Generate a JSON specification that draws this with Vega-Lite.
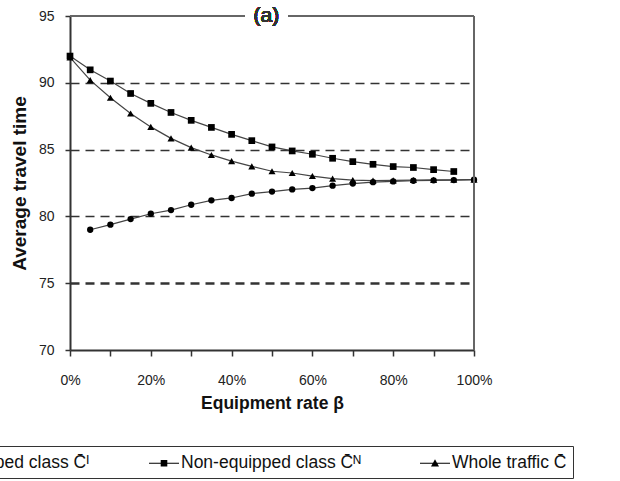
{
  "$schema": "https://vega.github.io/schema/vega-lite/v6.json",
  "width": 404,
  "height": 334,
  "autosize": {"type": "none"},
  "padding": {"left": 70, "top": 16, "right": 146, "bottom": 131},
  "background": "white",
  "config": {
    "view": {"stroke": null},
    "font": "Liberation Sans",
    "axis": {
      "labelFont": "Liberation Sans",
      "labelFontSize": 14,
      "labelColor": "#222",
      "titleFont": "Liberation Sans",
      "titleFontWeight": "bold",
      "titleColor": "#111",
      "domainColor": "#333",
      "domainWidth": 2,
      "tickColor": "#333",
      "tickWidth": 1.5,
      "tickSize": 6
    },
    "legend": {
      "orient": "none",
      "legendX": -154,
      "legendY": 430,
      "direction": "horizontal",
      "padding": 6,
      "strokeColor": "#333",
      "labelFont": "Liberation Sans",
      "labelFontSize": 17.5,
      "labelColor": "#111",
      "labelOffset": 6,
      "labelLimit": 400,
      "columnPadding": 56,
      "symbolSize": 400,
      "symbolOpacity": 1,
      "symbolFillColor": "black"
    }
  },
  "data": {
    "values": [
      {"b": 0.05, "v": 79.0, "s": "Equipped class C̄ᴵ"},
      {"b": 0.10, "v": 79.38, "s": "Equipped class C̄ᴵ"},
      {"b": 0.15, "v": 79.8, "s": "Equipped class C̄ᴵ"},
      {"b": 0.20, "v": 80.2, "s": "Equipped class C̄ᴵ"},
      {"b": 0.25, "v": 80.47, "s": "Equipped class C̄ᴵ"},
      {"b": 0.30, "v": 80.87, "s": "Equipped class C̄ᴵ"},
      {"b": 0.35, "v": 81.2, "s": "Equipped class C̄ᴵ"},
      {"b": 0.40, "v": 81.38, "s": "Equipped class C̄ᴵ"},
      {"b": 0.45, "v": 81.7, "s": "Equipped class C̄ᴵ"},
      {"b": 0.50, "v": 81.86, "s": "Equipped class C̄ᴵ"},
      {"b": 0.55, "v": 82.02, "s": "Equipped class C̄ᴵ"},
      {"b": 0.60, "v": 82.12, "s": "Equipped class C̄ᴵ"},
      {"b": 0.65, "v": 82.3, "s": "Equipped class C̄ᴵ"},
      {"b": 0.70, "v": 82.46, "s": "Equipped class C̄ᴵ"},
      {"b": 0.75, "v": 82.56, "s": "Equipped class C̄ᴵ"},
      {"b": 0.80, "v": 82.62, "s": "Equipped class C̄ᴵ"},
      {"b": 0.85, "v": 82.67, "s": "Equipped class C̄ᴵ"},
      {"b": 0.90, "v": 82.7, "s": "Equipped class C̄ᴵ"},
      {"b": 0.95, "v": 82.72, "s": "Equipped class C̄ᴵ"},
      {"b": 1.00, "v": 82.75, "s": "Equipped class C̄ᴵ"},
      {"b": 0.00, "v": 92.0, "s": "Non-equipped class C̄ᴺ"},
      {"b": 0.05, "v": 90.97, "s": "Non-equipped class C̄ᴺ"},
      {"b": 0.10, "v": 90.13, "s": "Non-equipped class C̄ᴺ"},
      {"b": 0.15, "v": 89.2, "s": "Non-equipped class C̄ᴺ"},
      {"b": 0.20, "v": 88.46, "s": "Non-equipped class C̄ᴺ"},
      {"b": 0.25, "v": 87.78, "s": "Non-equipped class C̄ᴺ"},
      {"b": 0.30, "v": 87.19, "s": "Non-equipped class C̄ᴺ"},
      {"b": 0.35, "v": 86.66, "s": "Non-equipped class C̄ᴺ"},
      {"b": 0.40, "v": 86.14, "s": "Non-equipped class C̄ᴺ"},
      {"b": 0.45, "v": 85.67, "s": "Non-equipped class C̄ᴺ"},
      {"b": 0.50, "v": 85.2, "s": "Non-equipped class C̄ᴺ"},
      {"b": 0.55, "v": 84.9, "s": "Non-equipped class C̄ᴺ"},
      {"b": 0.60, "v": 84.65, "s": "Non-equipped class C̄ᴺ"},
      {"b": 0.65, "v": 84.35, "s": "Non-equipped class C̄ᴺ"},
      {"b": 0.70, "v": 84.1, "s": "Non-equipped class C̄ᴺ"},
      {"b": 0.75, "v": 83.9, "s": "Non-equipped class C̄ᴺ"},
      {"b": 0.80, "v": 83.73, "s": "Non-equipped class C̄ᴺ"},
      {"b": 0.85, "v": 83.66, "s": "Non-equipped class C̄ᴺ"},
      {"b": 0.90, "v": 83.5, "s": "Non-equipped class C̄ᴺ"},
      {"b": 0.95, "v": 83.36, "s": "Non-equipped class C̄ᴺ"},
      {"b": 0.00, "v": 91.9, "s": "Whole traffic C̄"},
      {"b": 0.05, "v": 90.2, "s": "Whole traffic C̄"},
      {"b": 0.10, "v": 88.88, "s": "Whole traffic C̄"},
      {"b": 0.15, "v": 87.7, "s": "Whole traffic C̄"},
      {"b": 0.20, "v": 86.7, "s": "Whole traffic C̄"},
      {"b": 0.25, "v": 85.84, "s": "Whole traffic C̄"},
      {"b": 0.30, "v": 85.15, "s": "Whole traffic C̄"},
      {"b": 0.35, "v": 84.6, "s": "Whole traffic C̄"},
      {"b": 0.40, "v": 84.14, "s": "Whole traffic C̄"},
      {"b": 0.45, "v": 83.74, "s": "Whole traffic C̄"},
      {"b": 0.50, "v": 83.38, "s": "Whole traffic C̄"},
      {"b": 0.55, "v": 83.25, "s": "Whole traffic C̄"},
      {"b": 0.60, "v": 83.02, "s": "Whole traffic C̄"},
      {"b": 0.65, "v": 82.83, "s": "Whole traffic C̄"},
      {"b": 0.70, "v": 82.72, "s": "Whole traffic C̄"},
      {"b": 0.75, "v": 82.68, "s": "Whole traffic C̄"},
      {"b": 0.80, "v": 82.7, "s": "Whole traffic C̄"},
      {"b": 0.85, "v": 82.72, "s": "Whole traffic C̄"},
      {"b": 0.90, "v": 82.73, "s": "Whole traffic C̄"},
      {"b": 0.95, "v": 82.74, "s": "Whole traffic C̄"},
      {"b": 1.00, "v": 82.75, "s": "Whole traffic C̄"}
    ]
  },
  "encoding": {
    "x": {
      "field": "b",
      "type": "quantitative",
      "scale": {"domain": [0, 1], "nice": false},
      "axis": {
        "title": "Equipment rate β",
        "titleFontSize": 17.5,
        "values": [0, 0.1, 0.2, 0.3, 0.4, 0.5, 0.6, 0.7, 0.8, 0.9, 1],
        "labelExpr": "round(datum.value * 10) % 2 == 0 ? round(datum.value * 100) + '%' : ''",
        "labelFlush": false,
        "grid": false,
        "labelPadding": 17,
        "titlePadding": 7
      }
    },
    "y": {
      "field": "v",
      "type": "quantitative",
      "scale": {"domain": [70, 95], "nice": false, "zero": false},
      "axis": {
        "title": "Average travel time",
        "titleFontSize": 19,
        "values": [70, 75, 80, 85, 90, 95],
        "tickSize": 5,
        "labelPadding": 11,
        "titlePadding": 9,
        "grid": true,
        "gridColor": "#333",
        "gridDash": [9, 6],
        "gridWidth": {"condition": {"test": "datum.value == 75", "value": 2.5}, "value": 1.6},
        "gridOpacity": {"condition": {"test": "datum.value == 70 || datum.value == 95", "value": 0}, "value": 1}
      }
    }
  },
  "layer": [
    {
      "mark": {"type": "line", "color": "#444", "strokeWidth": 1.2},
      "encoding": {"detail": {"field": "s"}}
    },
    {
      "mark": {"type": "point", "opacity": 0, "size": 400, "filled": true, "color": "black"},
      "encoding": {
        "shape": {
          "field": "s",
          "type": "nominal",
          "scale": {
            "domain": ["Equipped class C̄ᴵ", "Non-equipped class C̄ᴺ", "Whole traffic C̄"],
            "range": [
              "M-1.5,-0.06H1.5V0.06H-1.5Z M-0.3,0A0.3,0.3,0,1,1,0.3,0A0.3,0.3,0,1,1,-0.3,0Z",
              "M-1.5,-0.06H1.5V0.06H-1.5Z M-0.33,-0.33H0.33V0.33H-0.33Z",
              "M-1.5,-0.06H1.5V0.06H-1.5Z M0,-0.4L0.4,0.32H-0.4Z"
            ]
          },
          "legend": {"title": null}
        }
      }
    },
    {
      "transform": [{"filter": "indexof(datum.s, 'Equipped') == 0"}],
      "mark": {"type": "point", "shape": "circle", "filled": true, "color": "black", "opacity": 1, "size": 40}
    },
    {
      "transform": [{"filter": "indexof(datum.s, 'Non') == 0"}],
      "mark": {"type": "point", "shape": "square", "filled": true, "color": "black", "opacity": 1, "size": 45}
    },
    {
      "transform": [{"filter": "indexof(datum.s, 'Whole') == 0"}],
      "mark": {"type": "point", "shape": "triangle-up", "filled": true, "color": "black", "opacity": 1, "size": 50}
    },
    {
      "mark": {"type": "rule", "color": "#666", "strokeWidth": 2},
      "encoding": {"x": {"datum": 0}, "x2": {"datum": 0.433}, "y": {"datum": 95}}
    },
    {
      "mark": {"type": "rule", "color": "#666", "strokeWidth": 2},
      "encoding": {"x": {"datum": 0.54}, "x2": {"datum": 1}, "y": {"datum": 95}}
    },
    {
      "mark": {"type": "rule", "color": "#666", "strokeWidth": 2},
      "encoding": {"x": {"datum": 1}, "y": {"datum": 70}, "y2": {"datum": 95}}
    },
    {
      "mark": {"type": "text", "text": "(a)", "fontSize": 21, "fontWeight": "normal", "font": "Liberation Sans", "color": "#333", "baseline": "middle", "align": "center"},
      "encoding": {"x": {"datum": 0.486}, "y": {"datum": 95}}
    }
  ]
}
